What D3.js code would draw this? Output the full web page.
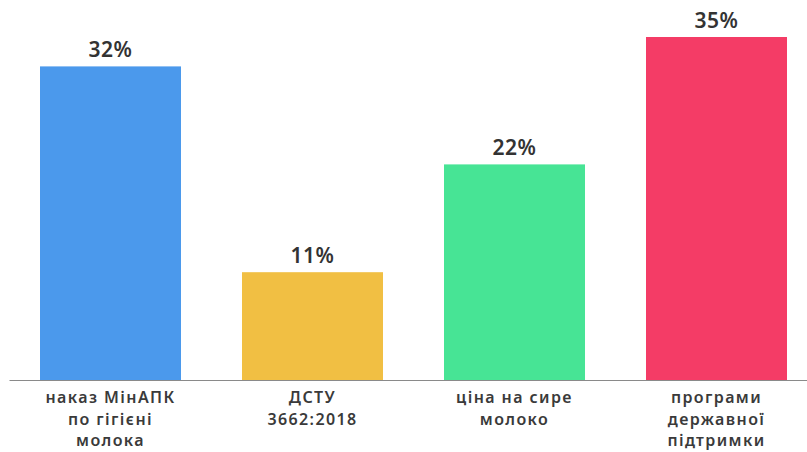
<!DOCTYPE html>
<html>
<head>
<meta charset="utf-8">
<script src="https://cdn.jsdelivr.net/npm/d3@7"></script>
<style>
  body { margin: 0; background: #fff; }
  svg { display: block; font-family: 'Noto Sans', sans-serif; }
</style>
</head>
<body>
<svg id="chart" width="807" height="452"></svg>
<script>
const categories = [
    ['наказ МінАПК', 'по гігієні', 'молока'],
    ['ДСТУ', '3662:2018'],
    ['ціна на сире', 'молоко'],
    ['програми', 'державної', 'підтримки'],
];
const values = [32, 11, 22, 35];
const colors = ['#4b99ec', '#f1bf43', '#47e495', '#f43c66'];

const width = 807;
const height = 452;
const baseline = 380;

const svg = d3.select('#chart');
const keys = categories.map((c, i) => i);

const xCoord = d3.scaleBand()
    .domain(keys)
    .range([9.5, 817.5])
    .paddingInner(0.302)
    .paddingOuter(0.151);

const yCoord = d3.scaleLinear()
    .domain([0, 35])
    .range([baseline, 37]);

// bars
svg.append('g')
    .selectAll('rect')
    .data(values)
    .join('rect')
    .attr('x', (d, i) => xCoord(i))
    .attr('y', d => yCoord(d))
    .attr('width', xCoord.bandwidth())
    .attr('height', d => baseline - yCoord(d))
    .attr('fill', (d, i) => colors[i]);

// value labels
svg.append('g')
    .selectAll('text')
    .data(values)
    .join('text')
    .attr('x', (d, i) => xCoord(i) + xCoord.bandwidth() / 2)
    .attr('y', d => yCoord(d) - 9)
    .attr('text-anchor', 'middle')
    .attr('font-size', 21)
    .attr('font-weight', 600)
    .attr('letter-spacing', 0.6)
    .attr('fill', '#333')
    .text(d => `${d}%`);

// x axis line
svg.append('line')
    .attr('x1', 9.5)
    .attr('x2', width)
    .attr('y1', baseline + 0.5)
    .attr('y2', baseline + 0.5)
    .attr('stroke', '#8a8a8a')
    .attr('stroke-width', 1.2);

// category labels
const labels = svg.append('g')
    .selectAll('text')
    .data(categories)
    .join('text')
    .attr('text-anchor', 'middle')
    .attr('font-size', 16)
    .attr('font-weight', 600)
    .attr('letter-spacing', 1.4)
    .attr('fill', '#3a3a3a');

labels.selectAll('tspan')
    .data((d, i) => d.map(line => ({ line, i })))
    .join('tspan')
    .attr('x', d => xCoord(d.i) + xCoord.bandwidth() / 2)
    .attr('y', (d, j) => 403 + j * 21.5)
    .text(d => d.line);
</script>
</body>
</html>
